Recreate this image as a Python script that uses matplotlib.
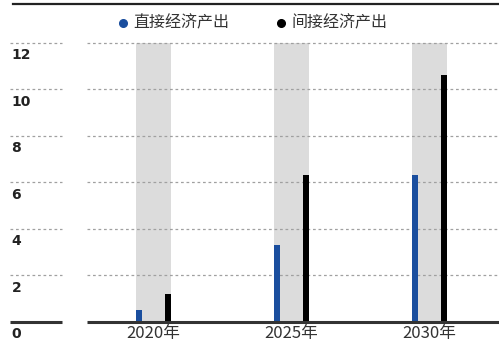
import matplotlib
matplotlib.use("Agg")
import matplotlib.pyplot as plt
import matplotlib.transforms as mtrans

plt.rcParams['font.family'] = ['Noto Sans CJK SC', 'DejaVu Sans']

# data
years = ['2020年', '2025年', '2030年']
direct = [0.5, 3.3, 6.3]
indirect = [1.2, 6.3, 10.6]
band_top = 12
yticks = [2, 4, 6, 8, 10, 12]
series_names = ['直接经济产出', '间接经济产出']

blue = '#1a4e9e'
black = '#000000'
band = '#dcdcdc'
grid = '#a0a0a0'
dark = '#333333'

W, H = 499, 342
fig = plt.figure(figsize=(W / 100, H / 100), dpi=100)

# axes: x from 10 px to 499 px, y from baseline (321.7) to the 12 line (42.7)
left_px, base_px, top_px = 10, 321.7, 42.7
ax = fig.add_axes([left_px / W, (H - base_px) / H, (W - left_px) / W,
                   (base_px - top_px) / H])
step = 138.0  # pixels between categories
x0 = (153.5 - left_px) / step
ax.set_xlim(-x0, -x0 + (W - left_px) / step)
ax.set_ylim(0, 12)
ax.axis('off')

xs = list(range(len(years)))

# grey band behind each year
ax.bar(xs, [band_top] * len(xs), width=35 / step, color=band, zorder=1)

off = 14.5 / step
bw = 6.2 / step
ax.bar([x - off for x in xs], direct, width=bw, color=blue, zorder=3)
ax.bar([x + off for x in xs], indirect, width=bw, color=black, zorder=3)

# horizontal rules, broken between the label column and the plot area
segs = [(0, (62 - left_px) / (W - left_px)), ((87 - left_px) / (W - left_px), 1)]
trans = mtrans.blended_transform_factory(ax.transAxes, ax.transData)
for y in yticks:
    for a, b in segs:
        ax.plot([a, b], [y, y], transform=trans, color=grid, lw=0.9,
                ls=(0, (2.2, 2.2)), zorder=2, clip_on=False)
for a, b in segs:
    ax.plot([a, b], [0, 0], transform=trans, color=dark, lw=2.2,
            zorder=4, clip_on=False, solid_capstyle='butt')

# y labels sit just below each rule
for y in [0] + yticks:
    ax.annotate(str(y), xy=(0, y), xycoords=trans, xytext=(1, -4),
                textcoords='offset points', ha='left', va='top',
                fontsize=10, fontweight='bold', color='#222222',
                family=['DejaVu Sans'])

# year labels
for x, lab in zip(xs, years):
    ax.annotate(lab, xy=(x, 0), xycoords='data', xytext=(0, -2.5),
                textcoords='offset points', ha='center', va='top',
                fontsize=12, color=dark, annotation_clip=False)

# top rule
fig.add_artist(plt.Line2D([12.5 / W, 1], [1 - 4 / H, 1 - 4 / H],
                          color='#222222', lw=1.6))

# legend
for (dx, tx), name, col in zip([(122.7, 133.5), (280.7, 291.5)], series_names,
                               [blue, black]):
    fig.add_artist(plt.Line2D([dx / W], [1 - 22.5 / H], marker='o', ms=5.5,
                              color=col, lw=0))
    fig.text(tx / W, 1 - 23 / H, name, color=dark, fontsize=11.5,
             ha='left', va='center')

fig.savefig('out.png', dpi=100)
